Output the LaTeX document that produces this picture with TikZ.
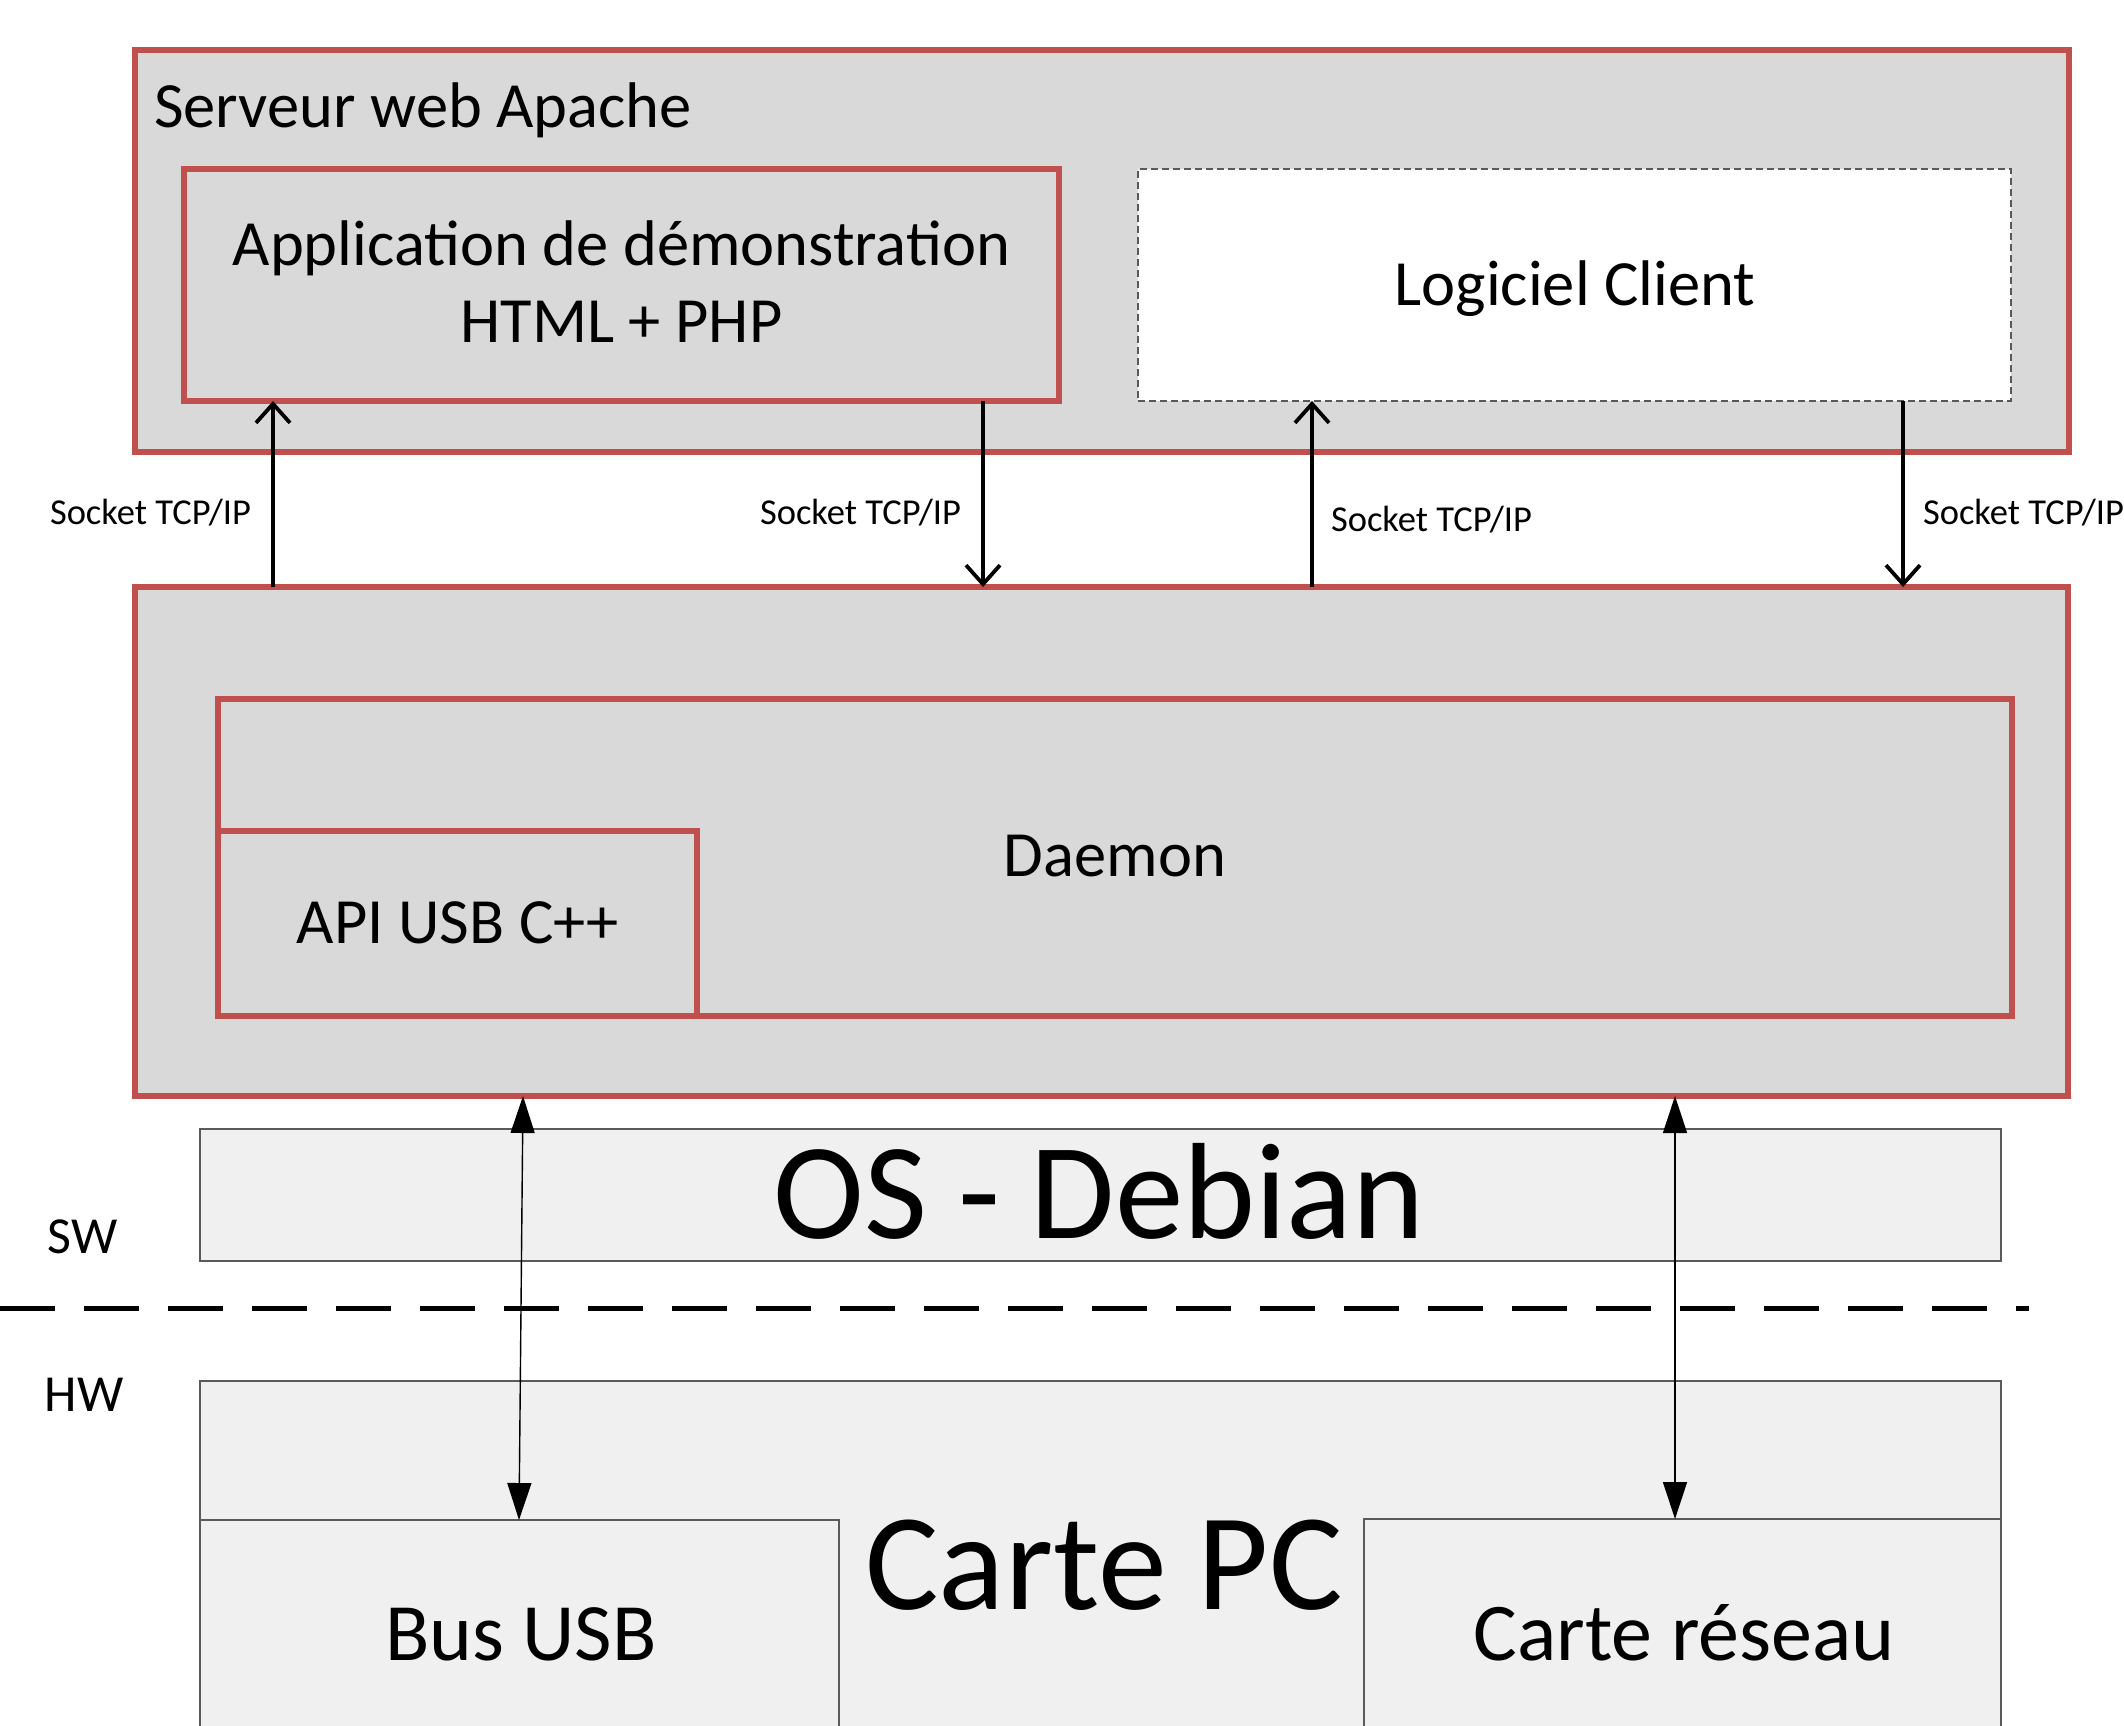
\documentclass[tikz,border=0pt]{standalone}
\usepackage{fontspec}
\setmainfont{Carlito}
\usetikzlibrary{arrows.meta}
\definecolor{boxred}{HTML}{C0504D}
\definecolor{boxgray}{HTML}{D9D9D9}
\definecolor{hwfill}{HTML}{F0F0F0}
\definecolor{hwline}{HTML}{5A5A5A}
\definecolor{dashgray}{HTML}{595959}
\newcommand{\fs}[1]{\fontsize{#1}{#1}\selectfont}
\tikzset{
  anybox/.style={rectangle, inner sep=0pt, outer sep=0pt, anchor=north west},
  redbox/.style={anybox, draw=boxred, fill=boxgray, line width=6pt},
  hwbox/.style={anybox, draw=hwline, fill=hwfill, line width=2pt},
  clientbox/.style={anybox, draw=dashgray, fill=white, line width=1.6pt, dash pattern=on 7pt off 4pt},
  txt/.style={inner sep=0pt, outer sep=0pt, anchor=base, text=black},
  txtw/.style={inner sep=0pt, outer sep=0pt, anchor=base west, text=black},
  maintxt/.style={txt, font=\fs{64.5}},
  sockettxt/.style={txtw, font=\fs{36.5}},
  tcp/.style={line width=3.8pt, -{Straight Barb[length=19pt,width=34pt]}},
  hwarrow/.style={line width=1.4pt, {Triangle[length=37pt,width=24pt]}-{Triangle[length=37pt,width=24pt]}},
  separator/.style={line width=4.5pt, dash pattern=on 55pt off 29pt},
}
\begin{document}
\begin{tikzpicture}[x=1pt,y=-1pt]
\clip (0,0) rectangle (2124,1725);
\fill[white] (0,0) rectangle (2124,1725);

% software boxes
\node[redbox, minimum width=1934pt, minimum height=402pt] (apache) at (135,50) {};
\node[redbox, minimum width=875pt, minimum height=232pt] (app) at (184,169) {};
\node[clientbox, minimum width=873pt, minimum height=232pt] (client) at (1138,169) {};
\node[redbox, minimum width=1933pt, minimum height=509pt] (dmnouter) at (135,587) {};
\node[redbox, minimum width=1794pt, minimum height=317pt] (daemon) at (218,699) {};
\node[redbox, minimum width=479pt, minimum height=185pt] (api) at (218,831) {};

% OS and hardware boxes
\node[hwbox, minimum width=1801pt, minimum height=132pt] (os) at (200,1129) {};
\node[hwbox, minimum width=1801pt, minimum height=420pt] (carte) at (200,1381) {};
\node[hwbox, minimum width=639pt, minimum height=300pt] (bus) at (200,1520) {};
\node[hwbox, minimum width=637pt, minimum height=300pt] (reseau) at (1364,1519) {};

% texts
\node[txtw, font=\fs{64.5}] (tapache) at (154,127) {Serveur web Apache};
\node[maintxt] (tapp1) at (621.5,265) {Application de démonstration};
\node[maintxt] (tapp2) at (621.5,342) {HTML + PHP};
\node[maintxt] (tclient) at (1575,305) {Logiciel Client};
\node[maintxt] (tdaemon) at (1115,876) {Daemon};
\node[maintxt] (tapi) at (457.5,943) {API USB C++};
\node[txt, font=\fs{137}] (tos) at (1099,1238) {OS - Debian};
\node[txt, font=\fs{138}] (tcarte) at (1104,1609) {Carte PC};
\node[txt, font=\fs{81.5}] (tbus) at (521,1660) {Bus USB};
\node[txt, font=\fs{82}] (treseau) at (1684,1660) {Carte réseau};
\node[txt, font=\fs{52}] (tsw) at (82.5,1253) {SW};
\node[txt, font=\fs{52}] (thw) at (84,1411) {HW};

\node[sockettxt] (s1) at (50,524) {Socket TCP/IP};
\node[sockettxt] (s2) at (760,524) {Socket TCP/IP};
\node[sockettxt] (s3) at (1331,531) {Socket TCP/IP};
\node[sockettxt] (s4) at (1923,524) {Socket TCP/IP};

% separator
\coordinate (sepL) at (0,1308.5);
\coordinate (sepR) at (2029,1308.5);
\draw[separator] (sepL) -- (sepR);

% TCP/IP connectors
\coordinate (x1) at (273,0);
\coordinate (x2) at (983,0);
\coordinate (x3) at (1312,0);
\coordinate (x4) at (1903,0);
\draw[tcp] (dmnouter.north -| x1) -- (app.south -| x1);
\draw[tcp] (app.south -| x2) -- (dmnouter.north -| x2);
\draw[tcp] (dmnouter.north -| x3) -- (client.south -| x3);
\draw[tcp] (client.south -| x4) -- (dmnouter.north -| x4);

% hardware connectors
\coordinate (u1) at (523,0);
\coordinate (u2) at (519,0);
\coordinate (r1) at (1675,0);
\draw[hwarrow] (dmnouter.south -| u1) -- (bus.north -| u2);
\draw[hwarrow] (dmnouter.south -| r1) -- (reseau.north -| r1);
\end{tikzpicture}
\end{document}
